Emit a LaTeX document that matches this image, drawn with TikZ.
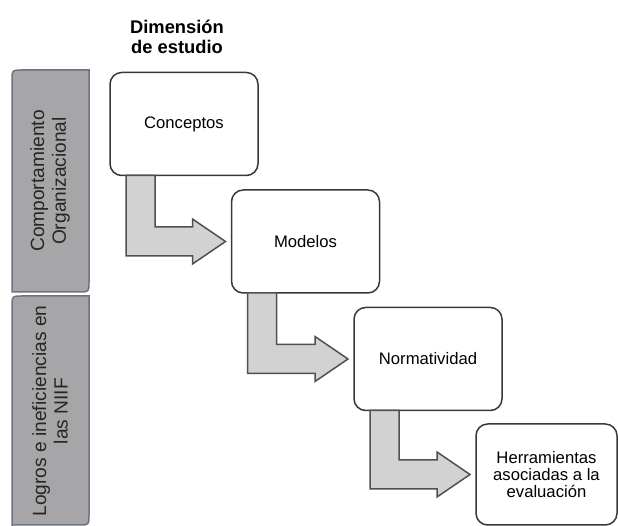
\documentclass[tikz,border=0pt]{standalone}
\usepackage{fontspec}
\setmainfont{Liberation Sans}
\usepackage{xcolor}
\usepackage{tikz}

\definecolor{tabgray}{HTML}{A6A6A8}
\definecolor{tabline}{HTML}{6E7380}
\definecolor{flowgray}{HTML}{D2D2D2}
\definecolor{flowline}{HTML}{505050}
\definecolor{boxline}{HTML}{383838}

\begin{document}
\begin{tikzpicture}[x=0.6pt,y=-0.6pt,
	box/.style={draw=boxline,line width=0.9pt,rounded corners=7pt,fill=white,
		outer sep=0pt,minimum width=88.8pt,minimum height=61.8pt,align=center,
		font=\fontsize{10}{10.2}\selectfont},
	tab/.style={draw=tabline,fill=tabgray,line width=0.9pt},
	tabtext/.style={rotate=90,align=center,text=black!85,font=\fontsize{11.5}{13}\selectfont},
	flow/.style={draw=flowline,fill=flowgray,line width=0.9pt,line join=miter}]
\useasboundingbox (0,0) rectangle (618,526);
%\begin{scope}
	% side bands
	\draw [tab] (12,292) -- (12,80) .. controls (12,70) .. (22,70) -- (89,70) -- (89,282) .. controls (89,292) .. (79,292) -- cycle;
	\draw [tab] (12,526) -- (12,306) .. controls (12,296) .. (22,296) -- (89,296) -- (89,515) .. controls (89,525) .. (79,525) -- (12,525);
	\node [tabtext] at (50,181) (co) {Comportamiento\\Organizacional};
	\node [tabtext] at (50,411) (li) {Logros e ineficiencias en\\las NIIF};
	\node [align=center,font=\fontsize{11}{12}\selectfont\bfseries] at (177,37) (dim) {Dimensión\\de estudio};
	% steps
	\node [box] at (184,124) (1) {Conceptos};
	\node [box] at (305.5,241.5) (2) {Modelos};
	\node [box] at (428,359) (3) {Normatividad};
	\node [box,minimum width=84.6pt,minimum height=60.6pt] at (546.5,474.5) (4) {Herramientas\\asociadas a la\\evaluación};
	% arrows
	\draw [flow] ([xshift=9.6pt]1.south west) -- ([xshift=27pt]1.south west) |- ([xshift=-23.4pt,yshift=8.7pt]2.west) -- ([xshift=-23.4pt,yshift=13.5pt]2.west) -- ([xshift=-3.6pt]2.west) -- ([xshift=-23.4pt,yshift=-13.5pt]2.west) -- ([xshift=-23.4pt,yshift=-8.7pt]2.west) -| ([xshift=9.6pt]1.south west) -- cycle;
	\draw [flow] ([xshift=9.6pt]2.south west) -- ([xshift=27pt]2.south west) |- ([xshift=-23.4pt,yshift=8.7pt]3.west) -- ([xshift=-23.4pt,yshift=13.5pt]3.west) -- ([xshift=-3.6pt]3.west) -- ([xshift=-23.4pt,yshift=-13.5pt]3.west) -- ([xshift=-23.4pt,yshift=-8.7pt]3.west) -| ([xshift=9.6pt]2.south west) -- cycle;
	\draw [flow] ([xshift=9.6pt]3.south west) -- ([xshift=27pt]3.south west) |- ([xshift=-23.4pt,yshift=8.7pt]4.west) -- ([xshift=-23.4pt,yshift=13.5pt]4.west) -- ([xshift=-3.6pt]4.west) -- ([xshift=-23.4pt,yshift=-13.5pt]4.west) -- ([xshift=-23.4pt,yshift=-8.7pt]4.west) -| ([xshift=9.6pt]3.south west) -- cycle;
%\end{scope}
\end{tikzpicture}
\end{document}
